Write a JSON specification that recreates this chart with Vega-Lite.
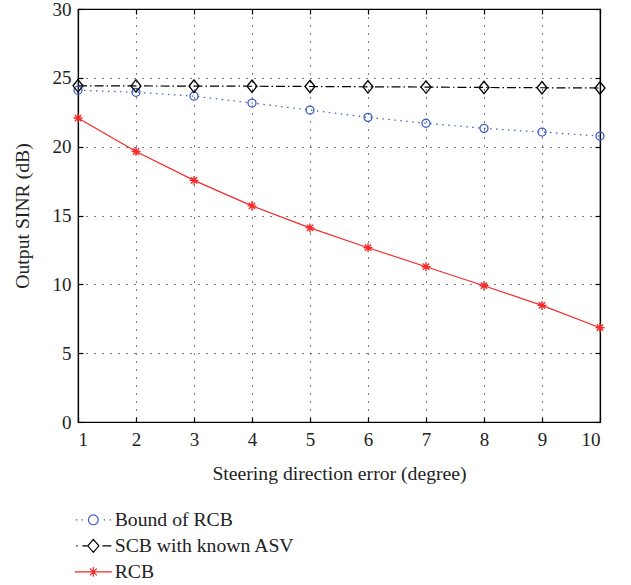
{
  "$schema": "https://vega.github.io/schema/vega-lite/v6.json",
  "width": 522,
  "height": 413,
  "autosize": {"type": "none"},
  "padding": {"left": 78, "top": 9, "right": 31, "bottom": 163},
  "background": "white",
  "config": {
    "view": {"stroke": "black", "strokeWidth": 1.2},
    "font": "Liberation Serif",
    "axis": {
      "labelFont": "Liberation Serif",
      "labelFontSize": 19,
      "labelColor": "#222",
      "titleFont": "Liberation Serif",
      "titleFontSize": 19.7,
      "titleFontWeight": "normal",
      "titleColor": "#222",
      "domainColor": "black",
      "domainWidth": 1.2,
      "tickColor": "black",
      "tickWidth": 1.2,
      "tickSize": -5,
      "gridColor": "black",
      "gridOpacity": 1,
      "gridWidth": 1,
      "gridDash": [1, 7]
    },
    "legend": {
      "labelFont": "Liberation Serif",
      "labelFontSize": 19.7,
      "labelColor": "#222",
      "labelLimit": 400
    }
  },
  "data": {
    "values": [
      {"deg": 1, "series": "Bound of RCB", "sinr": 24.1},
      {"deg": 2, "series": "Bound of RCB", "sinr": 23.95},
      {"deg": 3, "series": "Bound of RCB", "sinr": 23.67},
      {"deg": 4, "series": "Bound of RCB", "sinr": 23.17},
      {"deg": 5, "series": "Bound of RCB", "sinr": 22.66},
      {"deg": 6, "series": "Bound of RCB", "sinr": 22.13},
      {"deg": 7, "series": "Bound of RCB", "sinr": 21.7},
      {"deg": 8, "series": "Bound of RCB", "sinr": 21.33},
      {"deg": 9, "series": "Bound of RCB", "sinr": 21.06},
      {"deg": 10, "series": "Bound of RCB", "sinr": 20.77},
      {"deg": 1, "series": "SCB with known ASV", "sinr": 24.42},
      {"deg": 2, "series": "SCB with known ASV", "sinr": 24.41},
      {"deg": 3, "series": "SCB with known ASV", "sinr": 24.4},
      {"deg": 4, "series": "SCB with known ASV", "sinr": 24.39},
      {"deg": 5, "series": "SCB with known ASV", "sinr": 24.37},
      {"deg": 6, "series": "SCB with known ASV", "sinr": 24.35},
      {"deg": 7, "series": "SCB with known ASV", "sinr": 24.33},
      {"deg": 8, "series": "SCB with known ASV", "sinr": 24.3},
      {"deg": 9, "series": "SCB with known ASV", "sinr": 24.28},
      {"deg": 10, "series": "SCB with known ASV", "sinr": 24.26},
      {"deg": 1, "series": "RCB", "sinr": 22.08},
      {"deg": 2, "series": "RCB", "sinr": 19.65},
      {"deg": 3, "series": "RCB", "sinr": 17.55},
      {"deg": 4, "series": "RCB", "sinr": 15.7},
      {"deg": 5, "series": "RCB", "sinr": 14.1},
      {"deg": 6, "series": "RCB", "sinr": 12.66},
      {"deg": 7, "series": "RCB", "sinr": 11.28},
      {"deg": 8, "series": "RCB", "sinr": 9.9},
      {"deg": 9, "series": "RCB", "sinr": 8.47},
      {"deg": 10, "series": "RCB", "sinr": 6.85}
    ]
  },
  "resolve": {"axis": {"x": "independent", "y": "independent"}},
  "layer": [
    {
      "transform": [{"filter": "datum.series === 'Bound of RCB'"}],
      "mark": {"type": "line", "stroke": "#3a5bc7", "strokeWidth": 1.2, "strokeDash": [1.5, 4.5]},
      "encoding": {
        "x": {
          "field": "deg", "type": "quantitative",
          "scale": {"domain": [1, 10], "nice": false, "zero": false},
          "axis": {"values": [1, 2, 3, 4, 5, 6, 7, 8, 9, 10], "grid": true, "labelPadding": 13, "title": "Steering direction error (degree)", "titlePadding": 14}
        },
        "y": {
          "field": "sinr", "type": "quantitative",
          "scale": {"domain": [0, 30], "nice": false},
          "axis": {"values": [0, 5, 10, 15, 20, 25, 30], "grid": true, "labelPadding": 12, "title": "Output SINR (dB)", "titlePadding": 20}
        }
      }
    },
    {
      "transform": [{"filter": "datum.series === 'SCB with known ASV'"}],
      "mark": {"type": "line", "stroke": "black", "strokeWidth": 1.2, "strokeDash": [9, 3, 1.5, 3]},
      "encoding": {
        "x": {"field": "deg", "type": "quantitative", "axis": null},
        "y": {"field": "sinr", "type": "quantitative", "axis": null}
      }
    },
    {
      "transform": [{"filter": "datum.series === 'RCB'"}],
      "mark": {"type": "line", "stroke": "#f52a2a", "strokeWidth": 1.2},
      "encoding": {
        "x": {"field": "deg", "type": "quantitative", "axis": null},
        "y": {"field": "sinr", "type": "quantitative", "axis": null}
      }
    },
    {
      "transform": [{"filter": "datum.series === 'Bound of RCB'"}],
      "mark": {"type": "point", "shape": "circle", "size": 64, "filled": false, "stroke": "#3a5bc7", "strokeWidth": 1.3, "opacity": 1},
      "encoding": {
        "x": {"field": "deg", "type": "quantitative", "axis": null},
        "y": {"field": "sinr", "type": "quantitative", "axis": null}
      }
    },
    {
      "transform": [{"filter": "datum.series === 'SCB with known ASV'"}],
      "mark": {"type": "point", "shape": "M0,-1.25L1,0L0,1.25L-1,0Z", "size": 100, "filled": false, "stroke": "black", "strokeWidth": 1.3, "opacity": 1},
      "encoding": {
        "x": {"field": "deg", "type": "quantitative", "axis": null},
        "y": {"field": "sinr", "type": "quantitative", "axis": null}
      }
    },
    {
      "transform": [{"filter": "datum.series === 'RCB'"}],
      "mark": {"type": "point", "shape": "M-1,0H1M0,-1V1M-0.7,-0.7L0.7,0.7M-0.7,0.7L0.7,-0.7", "size": 81, "filled": false, "stroke": "#f52a2a", "strokeWidth": 1.4, "opacity": 1},
      "encoding": {
        "x": {"field": "deg", "type": "quantitative", "axis": null},
        "y": {"field": "sinr", "type": "quantitative", "axis": null}
      }
    },
    {
      "mark": {"type": "point", "filled": false, "opacity": 0, "strokeWidth": 1.2},
      "encoding": {
        "x": {
          "field": "deg", "type": "quantitative",
          "axis": {"orient": "top", "values": [1, 2, 3, 4, 5, 6, 7, 8, 9, 10], "labels": false, "title": null, "grid": false}
        },
        "y": {
          "field": "sinr", "type": "quantitative",
          "axis": {"orient": "right", "values": [0, 5, 10, 15, 20, 25, 30], "labels": false, "title": null, "grid": false}
        },
        "color": {
          "field": "series", "type": "nominal",
          "scale": {"domain": ["Bound of RCB", "SCB with known ASV", "RCB"], "range": ["#3a5bc7", "black", "#f52a2a"]},
          "legend": {
            "orient": "none", "legendX": 5.5, "legendY": 501, "title": null,
            "padding": 0, "rowPadding": 5, "labelOffset": 11.5,
            "symbolSize": 196, "symbolStrokeWidth": 1.2, "symbolOpacity": 1
          }
        },
        "shape": {
          "field": "series", "type": "nominal",
          "scale": {
            "domain": ["Bound of RCB", "SCB with known ASV", "RCB"],
            "range": [
              "M-2.5,0h0.2M-1.7,0h0.2M-0.7,0A0.7,0.7,0,1,1,0.7,0A0.7,0.7,0,1,1,-0.7,0M1.5,0h0.2M2.3,0h0.2",
              "M-2.45,0h0.2M-1.57,0H-0.79M0,-0.93L0.79,0L0,0.93L-0.79,0ZM1.29,0H2.57",
              "M-2.65,0H2.65M-0.7,0H0.7M0,-0.7V0.7M-0.5,-0.5L0.5,0.5M-0.5,0.5L0.5,-0.5"
            ]
          },
          "legend": {
            "orient": "none", "legendX": 5.5, "legendY": 501, "title": null,
            "padding": 0, "rowPadding": 5, "labelOffset": 11.5,
            "symbolSize": 196, "symbolStrokeWidth": 1.2, "symbolOpacity": 1
          }
        }
      }
    }
  ]
}
